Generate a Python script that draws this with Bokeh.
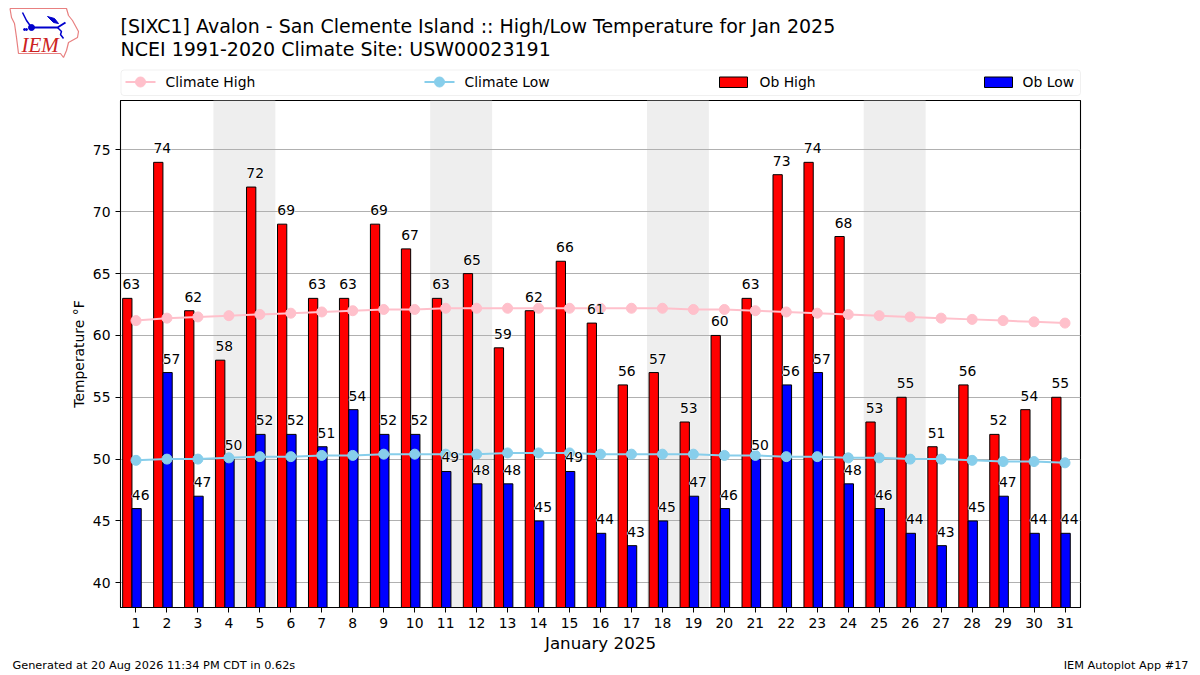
from bokeh.plotting import figure
from bokeh.layouts import column
from bokeh.models import ColumnDataSource, BoxAnnotation, FixedTicker, Range1d
from bokeh.core.properties import value
from bokeh.embed import file_html
from bokeh.resources import INLINE

days = list(range(1, 32))
ob_high = [63,74,62,58,72,69,63,63,69,67,63,65,59,62,66,61,56,57,53,60,63,73,74,68,53,55,51,56,52,54,55]
ob_low = [46,57,47,50,52,52,51,54,52,52,49,48,48,45,49,44,43,45,47,46,50,56,57,48,46,44,43,45,47,44,44]
clim_high = [61.2,61.4,61.5,61.6,61.7,61.8,61.9,62.0,62.1,62.1,62.2,62.2,62.2,62.2,62.2,62.2,62.2,62.2,62.1,62.1,62.0,61.9,61.8,61.7,61.6,61.5,61.4,61.3,61.2,61.1,61.0]
clim_low = [49.9,50.0,50.0,50.1,50.2,50.2,50.3,50.3,50.4,50.4,50.4,50.4,50.5,50.5,50.5,50.4,50.4,50.4,50.4,50.3,50.3,50.2,50.2,50.1,50.1,50.0,50.0,49.9,49.8,49.8,49.7]
weekend_start = [3.5, 10.5, 17.5, 24.5]
weekend_end = [5.5, 12.5, 19.5, 26.5]
y_ticks = [40, 45, 50, 55, 60, 65, 70, 75]
title_1 = "[SIXC1] Avalon - San Clemente Island :: High/Low Temperature for Jan 2025"
title_2 = "NCEI 1991-2020 Climate Site: USW00023191"
x_title = "January 2025"
y_title = "Temperature °F"
foot_l = "Generated at 20 Aug 2026 11:34 PM CDT in 0.62s"
foot_r = "IEM Autoplot App #17"
legend_labels = ["Climate High", "Climate Low", "Ob High", "Ob Low"]

FONT = "DejaVu Sans"
W = 1200
HEAD, FOOT = 99, 655   # page rows where main figure starts / footer starts
L, R, T, B = 120, 1080, 100, 608


def strip(h, y0, y1):
    """A figure whose frame fills it, with page pixels as its coordinates."""
    f = figure(width=W, height=h, output_backend="svg", toolbar_location=None,
               x_range=Range1d(0, W), y_range=Range1d(y1, y0), frame_align=False,
               min_border=0, background_fill_color="white", border_fill_color="white")
    f.axis.visible = False
    f.grid.visible = False
    f.outline_line_color = None
    return f


def put(f, x, y, t, size, align="left", font=FONT, style="normal", color="black"):
    f.text([x], [y], text=[t], text_font=value(font), text_font_size=size, text_font_style=style,
           text_color=color, text_align=align, text_baseline="middle")


# ---- header
h = strip(HEAD, 0, HEAD)
put(h, 120, 25, title_1, "19px")
put(h, 120, 48, title_2, "19px")
h.add_layout(BoxAnnotation(left=120.5, right=1080, top=69.5, bottom=95, fill_alpha=0,
                           line_color="#cccccc", line_width=1, border_radius=3))
h.line([125, 155], [81.5, 81.5], line_color="pink", line_width=2)
h.scatter([140], [81.5], size=10, fill_color="pink", line_color="pink")
h.line([424, 454], [81.5, 81.5], line_color="skyblue", line_width=2)
h.scatter([439], [81.5], size=10, fill_color="skyblue", line_color="skyblue")
h.quad(left=[719], right=[747], top=[76.5], bottom=[87], fill_color="red", line_color="black")
h.quad(left=[984], right=[1012], top=[76.5], bottom=[87], fill_color="blue", line_color="black")
for lx, lab in zip((165, 464, 759, 1022), legend_labels):
    put(h, lx, 81, lab, "13.9px")

# logo
h.line([9.5, 66, 68, 72, 78, 77, 68, 66, 63, 60, 18, 16, 14, 11, 9.5],
       [8, 8, 15, 20, 31, 37, 42, 50, 57, 53, 53, 37, 23, 17, 8],
       line_color="#e88080", line_width=1.2)
h.line([31, 57, 65], [27, 27, 22], line_color="#0000cc", line_width=2)
h.line([57, 61, 60, 63], [27, 31, 34, 38], line_color="#0000cc", line_width=1.5)
h.line([22, 26, 31], [12, 20, 27], line_color="#0000cc", line_width=1.5)
h.patch([47, 54, 58, 53], [16, 18, 23, 22], fill_color="#0000cc", line_color="#0000cc")
h.scatter([31], [27], size=6, fill_color="#0000cc", line_color="#0000cc")
h.scatter([24, 26], [29, 29], size=2, fill_color="#0000cc", line_color="#0000cc")
put(h, 21, 44, "IEM", "21px", font="Liberation Serif", style="italic", color="#cc2222")

# ---- main plot
p = figure(width=W, height=FOOT - HEAD, output_backend="svg", toolbar_location=None,
           x_range=Range1d(0.5, 31.5), y_range=Range1d(38, 79), frame_align=False,
           min_border_left=L, min_border_right=W - R, min_border_top=T - HEAD, min_border_bottom=FOOT - B,
           background_fill_color="white", border_fill_color="white")
p.outline_line_color = "black"
p.outline_line_width = 1.1
p.xgrid.visible = False
p.ygrid.grid_line_color = "#b0b0b0"
p.ygrid.grid_line_width = 1
p.ygrid.ticker = FixedTicker(ticks=y_ticks)

for ax, ticks in ((p.xaxis[0], days), (p.yaxis[0], y_ticks)):
    ax.ticker = FixedTicker(ticks=ticks)
    ax.major_tick_out = 5
    ax.major_tick_in = 0
    ax.minor_tick_out = 0
    ax.minor_tick_in = 0
    ax.major_tick_line_color = "black"
    ax.axis_line_color = "black"
    ax.major_label_text_font = FONT
    ax.major_label_text_font_size = "13.9px"
    ax.major_label_text_color = "black"
    ax.axis_label_text_font = FONT
    ax.axis_label_text_font_style = "normal"
    ax.axis_label_text_color = "black"
p.xaxis[0].axis_label = x_title
p.xaxis[0].axis_label_text_font_size = "16.7px"
p.xaxis[0].axis_label_standoff = 2
p.yaxis[0].axis_label = y_title
p.yaxis[0].axis_label_text_font_size = "13.9px"
p.yaxis[0].axis_label_standoff = 3

p.quad(left=weekend_start, right=weekend_end, bottom=38, top=79,
       fill_color="#eeeeee", line_color=None, level="image")

src = ColumnDataSource(dict(
    day=days, high=ob_high, low=ob_low, clim_high=clim_high, clim_low=clim_low,
    xh=[d - 0.28 for d in days], xl=[d + 0.02 for d in days],
    txh=[d - 0.15 for d in days], txl=[d + 0.15 for d in days],
    sh=[str(v) for v in ob_high], sl=[str(v) for v in ob_low]))

p.vbar(x="xh", top="high", bottom=0, width=0.3, source=src, fill_color="red", line_color="black", line_width=1)
p.vbar(x="xl", top="low", bottom=0, width=0.3, source=src, fill_color="blue", line_color="black", line_width=1)

p.line("day", "clim_high", source=src, line_color="pink", line_width=2)
p.scatter("day", "clim_high", source=src, size=10, fill_color="pink", line_color="pink")
p.line("day", "clim_low", source=src, line_color="skyblue", line_width=2)
p.scatter("day", "clim_low", source=src, size=10, fill_color="skyblue", line_color="skyblue")

for xc, yc, tc in (("txh", "high", "sh"), ("txl", "low", "sl")):
    p.text(xc, yc, text=tc, source=src, text_font=value(FONT), text_font_size="13.9px",
           text_color="white", text_align="center", text_baseline="bottom", y_offset=-9,
           outline_color="white")
    p.text(xc, yc, text=tc, source=src, text_font=value(FONT), text_font_size="13.9px",
           text_color="black", text_align="center", text_baseline="bottom", y_offset=-9)

# ---- footer
g = strip(675 - FOOT, FOOT, 675)
put(g, 12, 665, foot_l, "11.3px")
put(g, 1188, 665, foot_r, "11.3px", "right")

page = column(h, p, g, spacing=0)
open("out.html", "w").write(file_html(page, INLINE))
